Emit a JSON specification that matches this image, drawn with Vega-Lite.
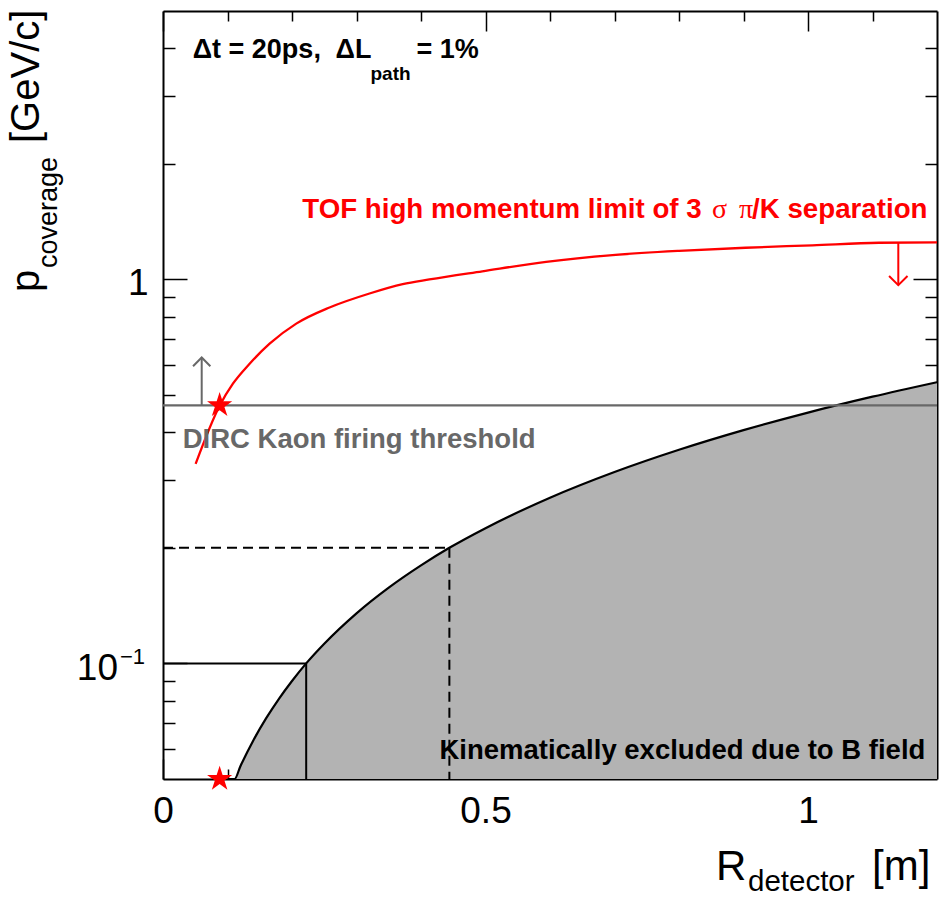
{
  "$schema": "https://vega.github.io/schema/vega-lite/v6.json",
  "width": 774,
  "height": 768,
  "autosize": {"type": "none"},
  "padding": {"left": 163, "top": 11, "right": 2, "bottom": 120},
  "background": "white",
  "config": {
    "view": {"stroke": null},
    "axis": {
      "grid": false,
      "labelFont": "Liberation Sans",
      "labelFontSize": 37,
      "labelColor": "black",
      "tickColor": "black",
      "domainColor": "black",
      "domainWidth": 2,
      "tickWidth": 1.5,
      "labelFlush": false,
      "labelOverlap": false,
      "zindex": 1,
      "title": null
    },
    "text": {"font": "Liberation Sans", "align": "left", "baseline": "alphabetic"}
  },
  "datasets": {
    "kin": [
      {"R": 0.100, "p": 0.0500},
      {"R": 0.111, "p": 0.0500},
      {"R": 0.120, "p": 0.0540},
      {"R": 0.140, "p": 0.0630},
      {"R": 0.160, "p": 0.0720},
      {"R": 0.180, "p": 0.0810},
      {"R": 0.200, "p": 0.0900},
      {"R": 0.222, "p": 0.1000},
      {"R": 0.250, "p": 0.1125},
      {"R": 0.300, "p": 0.1350},
      {"R": 0.350, "p": 0.1575},
      {"R": 0.400, "p": 0.1800},
      {"R": 0.444, "p": 0.2000},
      {"R": 0.500, "p": 0.2250},
      {"R": 0.600, "p": 0.2700},
      {"R": 0.700, "p": 0.3150},
      {"R": 0.800, "p": 0.3600},
      {"R": 0.900, "p": 0.4050},
      {"R": 1.000, "p": 0.4500},
      {"R": 1.100, "p": 0.4950},
      {"R": 1.200, "p": 0.5400}
    ],
    "tof": [
      {"R": 0.0506, "p": 0.331},
      {"R": 0.0878, "p": 0.469},
      {"R": 0.1084, "p": 0.535},
      {"R": 0.1343, "p": 0.603},
      {"R": 0.1653, "p": 0.680},
      {"R": 0.2066, "p": 0.767},
      {"R": 0.2582, "p": 0.845},
      {"R": 0.3202, "p": 0.919},
      {"R": 0.3717, "p": 0.972},
      {"R": 0.4130, "p": 1.000},
      {"R": 0.4950, "p": 1.050},
      {"R": 0.5940, "p": 1.111},
      {"R": 0.6970, "p": 1.157},
      {"R": 0.8000, "p": 1.187},
      {"R": 0.9030, "p": 1.209},
      {"R": 1.0070, "p": 1.227},
      {"R": 1.1100, "p": 1.246},
      {"R": 1.2000, "p": 1.249}
    ],
    "guides": [
      {"x1": 0, "x2": 0.222, "y1": 0.1, "y2": 0.1, "kind": "solid"},
      {"x1": 0.222, "x2": 0.222, "y1": 0.1, "y2": 0.05, "kind": "solid"},
      {"x1": 0, "x2": 0.444, "y1": 0.2, "y2": 0.2, "kind": "dashed"},
      {"x1": 0.444, "x2": 0.444, "y1": 0.2, "y2": 0.05, "kind": "dashed"}
    ],
    "stars": [
      {"R": 0.0878, "p": 0.47},
      {"R": 0.0878, "p": 0.05}
    ]
  },
  "resolve": {"axis": {"x": "independent", "y": "independent"}},
  "layer": [
    {
      "data": {"name": "kin"},
      "mark": {"type": "area", "color": "#b3b3b3", "interpolate": "monotone"},
      "encoding": {
        "x": {"field": "R", "type": "quantitative", "scale": {"domain": [0, 1.2], "nice": false, "zero": false},
              "axis": {"orient": "bottom", "values": [0, 0.5, 1], "format": "~g", "ticks": false, "domain": true, "labelPadding": 14}},
        "y": {"field": "p", "type": "quantitative", "scale": {"type": "log", "domain": [0.05, 5], "nice": false},
              "axis": {"orient": "left", "values": [0.1, 1], "ticks": false, "domain": true, "labelPadding": 15, "labelOffset": 4,
                       "labelExpr": "datum.value > 0.5 ? '1' : ''"}},
        "y2": {"datum": 0.05}
      }
    },
    {
      "data": {"name": "guides"},
      "mark": {"type": "rule", "color": "black", "strokeWidth": 2},
      "encoding": {
        "x": {"field": "x1", "type": "quantitative", "scale": {"domain": [0, 1.2], "nice": false, "zero": false},
              "axis": {"orient": "bottom", "values": [0.1, 0.2, 0.3, 0.4, 0.6, 0.7, 0.8, 0.9, 1.1], "labels": false, "domain": false, "tickSize": -10}},
        "x2": {"field": "x2"},
        "y": {"field": "y1", "type": "quantitative", "scale": {"type": "log", "domain": [0.05, 5], "nice": false},
              "axis": {"orient": "left", "values": [0.06, 0.07, 0.08, 0.09, 0.2, 0.3, 0.4, 0.5, 0.6, 0.7, 0.8, 0.9, 2, 3, 4], "labels": false, "domain": false, "tickSize": -12}},
        "y2": {"field": "y2"},
        "strokeDash": {"field": "kind", "type": "nominal", "scale": {"domain": ["solid", "dashed"], "range": [[1, 0], [10, 6]]}, "legend": null}
      }
    },
    {
      "data": {"name": "kin"},
      "mark": {"type": "line", "color": "black", "strokeWidth": 2.2, "interpolate": "monotone"},
      "encoding": {
        "x": {"field": "R", "type": "quantitative", "scale": {"domain": [0, 1.2], "nice": false, "zero": false},
              "axis": {"orient": "bottom", "values": [0, 0.5, 1], "labels": false, "domain": false, "tickSize": -20}},
        "y": {"field": "p", "type": "quantitative", "scale": {"type": "log", "domain": [0.05, 5], "nice": false},
              "axis": {"orient": "left", "values": [0.1, 1], "labels": false, "domain": false, "tickSize": -24}}
      }
    },
    {
      "data": {"values": [{"R0": 0, "R1": 1.2, "p": 0.47}]},
      "mark": {"type": "rule", "color": "#686868", "strokeWidth": 2.3},
      "encoding": {
        "x": {"field": "R0", "type": "quantitative", "scale": {"domain": [0, 1.2], "nice": false, "zero": false},
              "axis": {"orient": "top", "values": [0, 0.5, 1], "labels": false, "domain": true, "tickSize": -20}},
        "x2": {"field": "R1"},
        "y": {"field": "p", "type": "quantitative", "scale": {"type": "log", "domain": [0.05, 5], "nice": false},
              "axis": {"orient": "right", "values": [0.1, 1], "labels": false, "domain": true, "tickSize": -24}}
      }
    },
    {
      "data": {"name": "tof"},
      "mark": {"type": "line", "color": "#ff0000", "strokeWidth": 2.3, "interpolate": "monotone"},
      "encoding": {
        "x": {"field": "R", "type": "quantitative", "scale": {"domain": [0, 1.2], "nice": false, "zero": false},
              "axis": {"orient": "top", "values": [0.1, 0.2, 0.3, 0.4, 0.6, 0.7, 0.8, 0.9, 1.1], "labels": false, "domain": false, "tickSize": -10}},
        "y": {"field": "p", "type": "quantitative", "scale": {"type": "log", "domain": [0.05, 5], "nice": false},
              "axis": {"orient": "right", "values": [0.06, 0.07, 0.08, 0.09, 0.2, 0.3, 0.4, 0.5, 0.6, 0.7, 0.8, 0.9, 2, 3, 4], "labels": false, "domain": false, "tickSize": -12}}
      }
    },
    {
      "data": {"values": [{"R": 0.06, "p0": 0.47, "p1": 0.626}]},
      "layer": [
        {
          "mark": {"type": "rule", "color": "#686868", "strokeWidth": 2},
          "encoding": {
            "x": {"field": "R", "type": "quantitative", "scale": {"domain": [0, 1.2], "nice": false, "zero": false}, "axis": null},
            "y": {"field": "p0", "type": "quantitative", "scale": {"type": "log", "domain": [0.05, 5], "nice": false}, "axis": null},
            "y2": {"field": "p1"}
          }
        },
        {
          "mark": {"type": "point", "shape": "M-1,1L0,0L1,1", "filled": false, "stroke": "#686868", "strokeWidth": 2, "size": 300, "opacity": 1},
          "encoding": {
            "x": {"field": "R", "type": "quantitative", "scale": {"domain": [0, 1.2], "nice": false, "zero": false}, "axis": null},
            "y": {"field": "p1", "type": "quantitative", "scale": {"type": "log", "domain": [0.05, 5], "nice": false}, "axis": null}
          }
        }
      ]
    },
    {
      "data": {"values": [{"R": 1.14, "p0": 1.249, "p1": 0.966}]},
      "layer": [
        {
          "mark": {"type": "rule", "color": "#ff0000", "strokeWidth": 2},
          "encoding": {
            "x": {"field": "R", "type": "quantitative", "scale": {"domain": [0, 1.2], "nice": false, "zero": false}, "axis": null},
            "y": {"field": "p0", "type": "quantitative", "scale": {"type": "log", "domain": [0.05, 5], "nice": false}, "axis": null},
            "y2": {"field": "p1"}
          }
        },
        {
          "mark": {"type": "point", "shape": "M-1,-1L0,0L1,-1", "filled": false, "stroke": "#ff0000", "strokeWidth": 2, "size": 340, "opacity": 1},
          "encoding": {
            "x": {"field": "R", "type": "quantitative", "scale": {"domain": [0, 1.2], "nice": false, "zero": false}, "axis": null},
            "y": {"field": "p1", "type": "quantitative", "scale": {"type": "log", "domain": [0.05, 5], "nice": false}, "axis": null}
          }
        }
      ]
    },
    {
      "data": {"name": "stars"},
      "mark": {"type": "point", "shape": "M0,-1L0.2245,-0.309L0.951,-0.309L0.363,0.118L0.588,0.809L0,0.382L-0.588,0.809L-0.363,0.118L-0.951,-0.309L-0.2245,-0.309Z", "filled": true, "color": "#ff0000", "size": 700, "opacity": 1, "strokeWidth": 0},
      "encoding": {
        "x": {"field": "R", "type": "quantitative", "scale": {"domain": [0, 1.2], "nice": false, "zero": false}, "axis": null},
        "y": {"field": "p", "type": "quantitative", "scale": {"type": "log", "domain": [0.05, 5], "nice": false}, "axis": null}
      }
    },
    {
      "data": {"values": [{"label": "Δt = 20ps,", "R": 0.046, "p": 3.78}, {"label": "ΔL", "R": 0.2675, "p": 3.78}, {"label": "= 1%", "R": 0.3929, "p": 3.78}]},
      "mark": {"type": "text", "fontWeight": "bold", "fontSize": 27, "color": "black"},
      "encoding": {
        "text": {"field": "label"},
        "x": {"field": "R", "type": "quantitative", "scale": {"domain": [0, 1.2], "nice": false, "zero": false}, "axis": null},
        "y": {"field": "p", "type": "quantitative", "scale": {"type": "log", "domain": [0.05, 5], "nice": false}, "axis": null}
      }
    },
    {
      "data": {"values": [{"label": "path", "R": 0.3217, "p": 3.31}]},
      "mark": {"type": "text", "fontWeight": "bold", "fontSize": 19, "color": "black"},
      "encoding": {
        "text": {"field": "label"},
        "x": {"field": "R", "type": "quantitative", "scale": {"domain": [0, 1.2], "nice": false, "zero": false}, "axis": null},
        "y": {"field": "p", "type": "quantitative", "scale": {"type": "log", "domain": [0.05, 5], "nice": false}, "axis": null}
      }
    },
    {
      "data": {"values": [{"label": "TOF high momentum limit of 3", "R": 0.2159, "p": 1.445}, {"label": "/K separation", "R": 0.9133, "p": 1.445}]},
      "mark": {"type": "text", "fontWeight": "bold", "fontSize": 27.7, "color": "#ff0000"},
      "encoding": {
        "text": {"field": "label"},
        "x": {"field": "R", "type": "quantitative", "scale": {"domain": [0, 1.2], "nice": false, "zero": false}, "axis": null},
        "y": {"field": "p", "type": "quantitative", "scale": {"type": "log", "domain": [0.05, 5], "nice": false}, "axis": null}
      }
    },
    {
      "data": {"values": [{"label": "σ", "R": 0.8513, "p": 1.445}, {"label": "π", "R": 0.8931, "p": 1.445}]},
      "mark": {"type": "text", "font": "Liberation Serif", "fontSize": 28, "color": "#ff0000"},
      "encoding": {
        "text": {"field": "label"},
        "x": {"field": "R", "type": "quantitative", "scale": {"domain": [0, 1.2], "nice": false, "zero": false}, "axis": null},
        "y": {"field": "p", "type": "quantitative", "scale": {"type": "log", "domain": [0.05, 5], "nice": false}, "axis": null}
      }
    },
    {
      "data": {"values": [{"label": "DIRC Kaon firing threshold", "R": 0.0305, "p": 0.363}]},
      "mark": {"type": "text", "fontWeight": "bold", "fontSize": 27.5, "color": "#686868"},
      "encoding": {
        "text": {"field": "label"},
        "x": {"field": "R", "type": "quantitative", "scale": {"domain": [0, 1.2], "nice": false, "zero": false}, "axis": null},
        "y": {"field": "p", "type": "quantitative", "scale": {"type": "log", "domain": [0.05, 5], "nice": false}, "axis": null}
      }
    },
    {
      "data": {"values": [{"label": "Kinematically excluded due to B field", "R": 0.4285, "p": 0.0564}]},
      "mark": {"type": "text", "fontWeight": "bold", "fontSize": 27.5, "color": "black"},
      "encoding": {
        "text": {"field": "label"},
        "x": {"field": "R", "type": "quantitative", "scale": {"domain": [0, 1.2], "nice": false, "zero": false}, "axis": null},
        "y": {"field": "p", "type": "quantitative", "scale": {"type": "log", "domain": [0.05, 5], "nice": false}, "axis": null}
      }
    },
    {
      "data": {"values": [{"label": "10", "R": 0, "p": 0.1}]},
      "mark": {"type": "text", "fontSize": 37, "color": "black", "align": "right", "dx": -45, "dy": 17},
      "encoding": {
        "text": {"field": "label"},
        "x": {"field": "R", "type": "quantitative", "scale": {"domain": [0, 1.2], "nice": false, "zero": false}, "axis": null},
        "y": {"field": "p", "type": "quantitative", "scale": {"type": "log", "domain": [0.05, 5], "nice": false}, "axis": null}
      }
    },
    {
      "data": {"values": [{"label": "−1", "R": 0, "p": 0.1}]},
      "mark": {"type": "text", "fontSize": 22, "color": "black", "dx": -43, "dy": 1},
      "encoding": {
        "text": {"field": "label"},
        "x": {"field": "R", "type": "quantitative", "scale": {"domain": [0, 1.2], "nice": false, "zero": false}, "axis": null},
        "y": {"field": "p", "type": "quantitative", "scale": {"type": "log", "domain": [0.05, 5], "nice": false}, "axis": null}
      }
    },
    {
      "data": {"values": [{"label": "R", "R": 1.2, "p": 0.05}]},
      "mark": {"type": "text", "fontSize": 42, "color": "black", "dx": -221, "dy": 101},
      "encoding": {
        "text": {"field": "label"},
        "x": {"field": "R", "type": "quantitative", "scale": {"domain": [0, 1.2], "nice": false, "zero": false}, "axis": null},
        "y": {"field": "p", "type": "quantitative", "scale": {"type": "log", "domain": [0.05, 5], "nice": false}, "axis": null}
      }
    },
    {
      "data": {"values": [{"label": "detector", "R": 1.2, "p": 0.05}]},
      "mark": {"type": "text", "fontSize": 29.5, "color": "black", "dx": -189, "dy": 112},
      "encoding": {
        "text": {"field": "label"},
        "x": {"field": "R", "type": "quantitative", "scale": {"domain": [0, 1.2], "nice": false, "zero": false}, "axis": null},
        "y": {"field": "p", "type": "quantitative", "scale": {"type": "log", "domain": [0.05, 5], "nice": false}, "axis": null}
      }
    },
    {
      "data": {"values": [{"label": "[m]", "R": 1.2, "p": 0.05}]},
      "mark": {"type": "text", "fontSize": 42, "color": "black", "dx": -65, "dy": 101},
      "encoding": {
        "text": {"field": "label"},
        "x": {"field": "R", "type": "quantitative", "scale": {"domain": [0, 1.2], "nice": false, "zero": false}, "axis": null},
        "y": {"field": "p", "type": "quantitative", "scale": {"type": "log", "domain": [0.05, 5], "nice": false}, "axis": null}
      }
    },
    {
      "data": {"values": [{"label": "p", "R": 0, "p": 5}]},
      "mark": {"type": "text", "fontSize": 40, "color": "black", "angle": 270, "dx": -281, "dy": -124},
      "encoding": {
        "text": {"field": "label"},
        "x": {"field": "R", "type": "quantitative", "scale": {"domain": [0, 1.2], "nice": false, "zero": false}, "axis": null},
        "y": {"field": "p", "type": "quantitative", "scale": {"type": "log", "domain": [0.05, 5], "nice": false}, "axis": null}
      }
    },
    {
      "data": {"values": [{"label": "coverage", "R": 0, "p": 5}]},
      "mark": {"type": "text", "fontSize": 27, "color": "black", "angle": 270, "dx": -257, "dy": -106},
      "encoding": {
        "text": {"field": "label"},
        "x": {"field": "R", "type": "quantitative", "scale": {"domain": [0, 1.2], "nice": false, "zero": false}, "axis": null},
        "y": {"field": "p", "type": "quantitative", "scale": {"type": "log", "domain": [0.05, 5], "nice": false}, "axis": null}
      }
    },
    {
      "data": {"values": [{"label": "[GeV/c]", "R": 0, "p": 5}]},
      "mark": {"type": "text", "fontSize": 40, "color": "black", "angle": 270, "dx": -132, "dy": -124},
      "encoding": {
        "text": {"field": "label"},
        "x": {"field": "R", "type": "quantitative", "scale": {"domain": [0, 1.2], "nice": false, "zero": false}, "axis": null},
        "y": {"field": "p", "type": "quantitative", "scale": {"type": "log", "domain": [0.05, 5], "nice": false}, "axis": null}
      }
    }
  ]
}
